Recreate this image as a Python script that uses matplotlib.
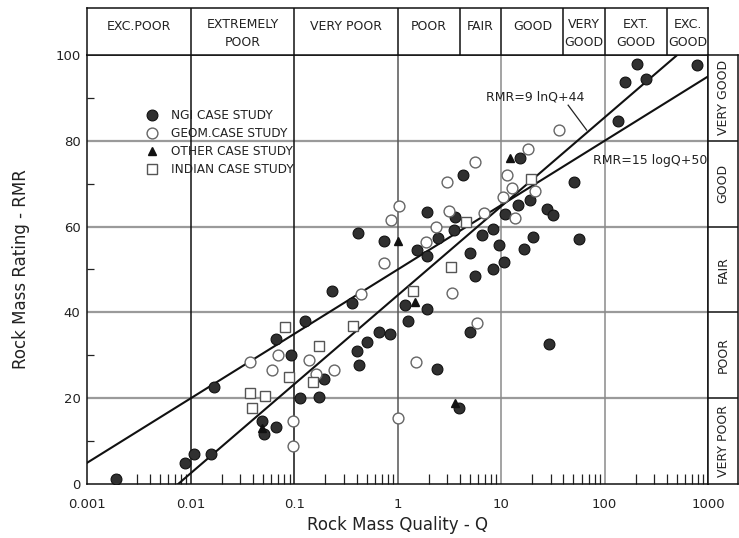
import numpy as np
import matplotlib
matplotlib.use('Agg')
import matplotlib.pyplot as plt
from matplotlib.ticker import LogLocator, NullFormatter, FixedLocator

plt.rcParams['font.family'] = ['DejaVu Sans']
plt.rcParams['text.color'] = '#222222'
plt.rcParams['axes.labelcolor'] = '#222222'
plt.rcParams['xtick.color'] = '#222222'
plt.rcParams['ytick.color'] = '#222222'

# NGI case study (Q, RMR)
ngi_q = [0.41, 0.74, 1.52, 0.23, 0.36, 0.128, 0.066, 0.092, 0.0166, 0.195,
         0.113, 0.175, 0.40, 0.42, 0.50, 0.66, 0.84, 1.17, 1.25, 0.049,
         0.051, 0.066, 0.0088, 0.0108, 0.0156, 0.0019,
         136, 15.3, 4.3, 51, 1.9, 3.6, 18.9, 14.7, 10.8, 28,
         32, 2.46, 3.48, 6.5, 8.4, 1.9, 9.6, 20.3, 57, 5.0,
         16.6, 10.6, 8.3, 5.6, 1.9, 5.0, 2.37, 29, 3.9,
         205, 158, 252, 790]
ngi_rmr = [58.4, 56.6, 54.6, 45.1, 42.2, 38.0, 33.9, 30.1, 22.6, 24.4,
           20.1, 20.3, 30.9, 27.7, 33.0, 35.4, 35.0, 41.7, 38.1, 14.7,
           11.6, 13.3, 5.0, 7.0, 7.0, 1.1,
           84.6, 76.0, 72.1, 70.5, 63.3, 62.3, 66.2, 65.0, 63.0, 64.0,
           62.7, 57.3, 59.1, 58.1, 59.4, 53.2, 55.7, 57.5, 57.0, 53.8,
           54.7, 51.8, 50.1, 48.5, 40.9, 35.5, 26.8, 32.6, 17.8,
           97.8, 93.8, 94.3, 97.7]

# geomechanics case study
geom_q = [1.02, 0.86, 0.74, 0.44, 0.037, 0.069, 0.061, 0.138, 0.163, 0.24,
          0.096, 0.096, 1.0, 1.5, 36, 18.3, 5.6, 2.97, 11.4, 12.6,
          21.2, 10.4, 3.1, 6.8, 13.6, 2.32, 1.86, 3.37, 5.8]
geom_rmr = [64.7, 61.5, 51.4, 44.2, 28.4, 30.0, 26.5, 29.0, 25.7, 26.5,
            14.7, 8.9, 15.3, 28.4, 82.5, 78.2, 75.1, 70.3, 72.0, 68.9,
            68.2, 67.0, 63.6, 63.1, 61.9, 60.0, 56.4, 44.5, 37.6]

# other case studies
other_q = [1.0, 1.47, 0.049, 12.1, 3.56]
other_rmr = [56.6, 42.4, 13.0, 76.0, 18.9]

# indian case study
indian_q = [0.081, 0.37, 0.175, 0.088, 0.150, 0.037, 0.052, 0.039, 1.41,
            19.3, 4.6, 3.3]
indian_rmr = [36.6, 36.9, 32.1, 25.0, 23.7, 21.3, 20.6, 17.8, 44.9,
              71.1, 61.1, 50.5]

# rock mass classes
q_bounds = [0.001, 0.01, 0.1, 1, 4, 10, 40, 100, 400, 1000]
q_classes = ['EXC.POOR', 'EXTREMELY\nPOOR', 'VERY POOR', 'POOR', 'FAIR',
             'GOOD', 'VERY\nGOOD', 'EXT.\nGOOD', 'EXC.\nGOOD']
rmr_bounds = [0, 20, 40, 60, 80, 100]
rmr_classes = ['VERY POOR', 'POOR', 'FAIR', 'GOOD', 'VERY GOOD']

fig = plt.figure(figsize=(7.39, 5.38), dpi=100)
L, B, W, H = 0.1184, 0.1004, 0.8397, 0.7974
ax = fig.add_axes([L, B, W, H])
ax.set_xscale('log')
ax.set_xlim(0.001, 1000)
ax.set_ylim(0, 100)

# grid
for y in [20, 40, 60, 80]:
    ax.axhline(y, color='#9a9a9a', lw=1.6, zorder=1)
for x, c in [(0.01, '#111111'), (0.1, '#111111'), (1, '#555555'),
             (10, '#8a8a8a'), (100, '#8a8a8a')]:
    ax.axvline(x, color=c, lw=1.1, zorder=1)

# regression lines
qq = np.logspace(-3, 3, 400)
ax.plot(qq, 9 * np.log(qq) + 44, color='#111111', lw=1.5, zorder=2)
ax.plot(qq, 15 * np.log10(qq) + 50, color='#111111', lw=1.5, zorder=2)

ax.plot(ngi_q, ngi_rmr, 'o', ms=7.8, mfc='#303030', mec='#111111', mew=0.8,
        zorder=3, label='NGI CASE STUDY')
ax.plot(geom_q, geom_rmr, 'o', ms=7.8, mfc='white', mec='#666666', mew=1.0,
        zorder=4, label='GEOM.CASE STUDY')
ax.plot(other_q, other_rmr, '^', ms=6, mfc='#111111', mec='#111111',
        zorder=5, label='OTHER CASE STUDY')
ax.plot(indian_q, indian_rmr, 's', ms=7.5, mfc='white', mec='#555555',
        mew=1.0, zorder=4, label='INDIAN CASE STUDY')

ax.legend(loc='upper left', bbox_to_anchor=(0.094, 0.873), frameon=False,
          fontsize=8.7, handlelength=1.0, handletextpad=1.05,
          labelspacing=0.4, borderaxespad=0, borderpad=0)

ax.text(21.3, 90.2, 'RMR=9 lnQ+44', fontsize=9, ha='center', va='center')
ax.plot([44.4, 67], [88.3, 82.5], color='#222222', lw=0.9, zorder=2)
ax.text(77, 75.5, 'RMR=15 logQ+50', fontsize=9, ha='left', va='center')

# axes, ticks
for s in ax.spines.values():
    s.set_color('#111111')
    s.set_linewidth(1.1)
ax.xaxis.set_major_locator(FixedLocator([0.001, 0.01, 0.1, 1, 10, 100, 1000]))
ax.set_xticklabels(['0.001', '0.01', '0.1', '1', '10', '100', '1000'])
ax.xaxis.set_minor_locator(LogLocator(base=10, subs=np.arange(2, 10)))
ax.xaxis.set_minor_formatter(NullFormatter())
ax.set_yticks([0, 20, 40, 60, 80, 100])
ax.set_yticks([10, 30, 50, 70, 90], minor=True)
ax.tick_params(axis='both', which='major', length=0, labelsize=9.5)
ax.tick_params(axis='x', which='major', pad=10)
ax.tick_params(axis='y', which='major', pad=5)
ax.tick_params(axis='x', which='minor', direction='in', length=7, width=0.9)
ax.tick_params(axis='y', which='minor', direction='in', length=5, width=0.9)
ax.set_xlabel('Rock Mass Quality - Q', fontsize=12, labelpad=4)
ax.set_ylabel('Rock Mass Rating - RMR', fontsize=12, labelpad=18)

# Q class header
hx = fig.add_axes([L, 0.8978, W, 0.0874])
hx.set_xscale('log')
hx.set_xlim(0.001, 1000)
hx.set_ylim(0, 1)
hx.set_xticks([])
hx.set_yticks([])
hx.minorticks_off()
for s in hx.spines.values():
    s.set_color('#111111')
    s.set_linewidth(1.1)
for b in q_bounds[1:-1]:
    hx.axvline(b, color='#111111', lw=1.1)
for i, name in enumerate(q_classes):
    xm = np.sqrt(q_bounds[i] * q_bounds[i + 1])
    lines = name.split('\n')
    if len(lines) == 1:
        hx.text(xm, 0.6, lines[0], fontsize=9, ha='center', va='center')
    else:
        hx.text(xm, 0.64, lines[0], fontsize=9, ha='center', va='center')
        hx.text(xm, 0.255, lines[1], fontsize=9, ha='center', va='center')

# RMR class column
rx = fig.add_axes([L + W, B, 0.0405, H])
rx.set_xlim(0, 1)
rx.set_ylim(0, 100)
rx.set_xticks([])
rx.set_yticks([])
for s in rx.spines.values():
    s.set_color('#111111')
    s.set_linewidth(1.1)
for b in rmr_bounds[1:-1]:
    rx.axhline(b, color='#111111', lw=1.1)
for i, name in enumerate(rmr_classes):
    ym = 0.5 * (rmr_bounds[i] + rmr_bounds[i + 1])
    rx.text(0.5, ym, name, fontsize=9, rotation=90, ha='center', va='center')

fig.savefig('out.png', dpi=100)
